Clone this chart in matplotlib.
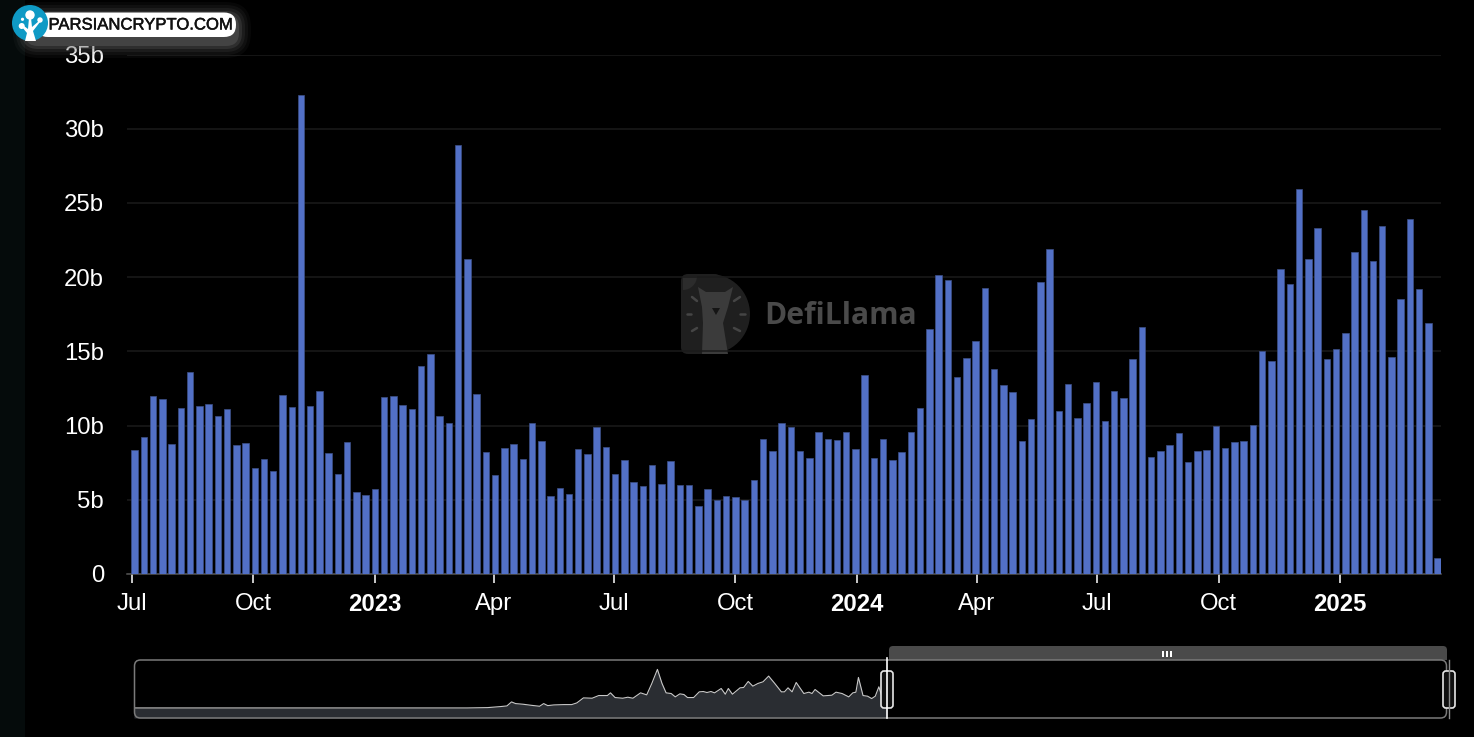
import numpy as np
import pandas as pd
import matplotlib
matplotlib.use('Agg')
import matplotlib.pyplot as plt
import matplotlib.dates as mdates
import matplotlib.patheffects as pe
from matplotlib.patches import Circle, FancyBboxPatch, Polygon, Rectangle, Wedge

plt.rcParams['font.family'] = ['Liberation Sans', 'DejaVu Sans']

# weekly volume in billions
volume = [8.36, 9.21, 12.02, 11.8, 8.76, 11.19, 13.6, 11.35, 11.48, 10.65, 11.12, 8.72,
          8.81, 7.15, 7.73, 6.92, 12.09, 11.26, 32.28, 11.35, 12.36, 8.16, 6.74, 8.9,
          5.53, 5.33, 5.73, 11.93, 12.0, 11.39, 11.12, 14.04, 14.83, 10.63, 10.18, 28.88,
          21.25, 12.13, 8.2, 6.67, 8.49, 8.76, 7.75, 10.18, 8.94, 5.24, 5.78, 5.39,
          8.45, 8.11, 9.93, 8.56, 6.74, 7.71, 6.22, 5.93, 7.37, 6.09, 7.6, 6.02,
          6.02, 4.61, 5.75, 4.99, 5.24, 5.17, 4.99, 6.34, 9.1, 8.31, 10.2, 9.93,
          8.27, 7.84, 9.57, 9.1, 9.03, 9.57, 8.4, 13.42, 7.82, 9.08, 7.71, 8.2,
          9.57, 11.19, 16.5, 20.15, 19.8, 13.26, 14.54, 15.73, 19.27, 13.78, 12.72, 12.29,
          8.94, 10.47, 19.66, 21.87, 10.99, 12.79, 10.54, 11.55, 12.94, 10.34, 12.34, 11.87,
          14.47, 16.67, 7.91, 8.27, 8.7, 9.53, 7.55, 8.29, 8.38, 9.98, 8.52, 8.92,
          8.97, 10.02, 15.03, 14.36, 20.58, 19.57, 25.95, 21.25, 23.3, 14.5, 15.18, 16.25,
          21.7, 24.5, 21.07, 23.45, 14.6, 18.55, 23.95, 19.2, 16.88, 1.06]
weeks = pd.date_range('2022-07-03', periods=len(volume), freq='7D')

tick_dates = ['2022-07-01', '2022-10-01', '2023-01-01', '2023-04-01', '2023-07-01', '2023-10-01',
              '2024-01-01', '2024-04-01', '2024-07-01', '2024-10-01', '2025-01-01']
tick_names = ['Jul', 'Oct', '2023', 'Apr', 'Jul', 'Oct', '2024', 'Apr', 'Jul', 'Oct', '2025']
y_ticks = [0, 5, 10, 15, 20, 25, 30, 35]
y_names = ['0', '5b', '10b', '15b', '20b', '25b', '30b', '35b']

# full history shown in the slider (position along slider, height)
overview_pos = [27, 680, 720, 745, 758, 767, 775, 790, 805, 822, 830, 838, 850, 870, 885, 895, 908,
                925, 938, 955, 961, 970, 985, 995, 1005, 1020, 1032, 1042, 1053, 1062, 1070, 1080,
                1088, 1097, 1105, 1112, 1124, 1135, 1143, 1150, 1158, 1165, 1178, 1186, 1192, 1200,
                1215, 1222, 1231, 1240, 1250, 1260, 1271, 1283, 1296, 1302, 1309, 1317, 1325, 1340,
                1350, 1356, 1362, 1378, 1395, 1403, 1415, 1428, 1436, 1442, 1447, 1456, 1465, 1473,
                1480, 1487, 1495, 1503]
overview_val = [30, 30, 31, 34, 36, 48, 43, 41, 38, 35, 43, 37, 39, 40, 40, 45, 60,
                59, 67, 67, 75, 61, 59, 62, 59, 75, 69, 103, 145, 103, 75, 73,
                63, 72, 70, 61, 61, 78, 79, 76, 79, 75, 88, 71, 88, 71,
                90, 91, 109, 95, 103, 108, 125, 103, 78, 78, 90, 78, 106, 73,
                77, 73, 85, 66, 68, 77, 73, 63, 75, 77, 121, 67, 65, 58,
                65, 93, 55, 53]

W, H = 1474, 737
fig = plt.figure(figsize=(W / 100, H / 100), dpi=100, facecolor='black')


def px_axes(left, top, right, bottom, **kw):
    return fig.add_axes([left / W, 1 - bottom / H, (right - left) / W, (bottom - top) / H], **kw)


# main chart
ax = px_axes(127, 54.5, 1441, 574, zorder=2)
ax.set_facecolor('none')
px_per_day = 1208 / 915
start = mdates.date2num(pd.Timestamp('2022-07-01'))
ax.set_xlim(start - 5 / px_per_day, start + (1441 - 132) / px_per_day)
ax.set_ylim(0, 35)
ax.bar(weeks, volume, width=4.9, color='#5270c6', edgecolor='#3d4f86', linewidth=0.5, zorder=3)

ax.grid(axis='y', color='#1b1b1b', linewidth=1.1, zorder=0)
ax.set_axisbelow(True)
for s in ['top', 'right', 'left']:
    ax.spines[s].set_visible(False)
ax.spines['bottom'].set_color('#555555')
ax.spines['bottom'].set_linewidth(1.1)

ax.set_xticks(mdates.date2num(pd.to_datetime(tick_dates)))
ax.set_xticklabels(tick_names)
ax.set_yticks(y_ticks)
ax.set_yticklabels(y_names)
ax.tick_params(axis='x', colors='white', length=6.5, width=1.1, pad=7.2, labelsize=17.2)
ax.tick_params(axis='y', colors='white', length=0, pad=16.5, labelsize=17.2)
for lab in ax.get_xticklabels():
    if lab.get_text().startswith('20'):
        lab.set_fontweight('bold')
for lab in ax.get_yticklabels():
    lab.set_va('center_baseline')

# slider mini chart
ov = px_axes(134, 660, 887, 718, zorder=1)
ov.set_facecolor('none')
ov.set_xlim(27, 1503)
ov.set_ylim(0, 173)
ov.fill_between(overview_pos, overview_val, 0, color='#2a2d32', linewidth=0)
ov.plot(overview_pos, overview_val, color='#c8c8c8', linewidth=0.8)
ov.axis('off')

# everything else sits on a pixel overlay
bg = px_axes(0, 0, W, H, zorder=0)
bg.set_xlim(0, W)
bg.set_ylim(H, 0)
bg.axis('off')
bg.add_patch(Rectangle((0, 0), 25, H, color='#050b0b', lw=0))

# watermark
bg.add_patch(Wedge((710, 314), 40, -90, 90, facecolor='#1f1f1f', edgecolor='none'))
bg.add_patch(FancyBboxPatch((681, 274), 40, 80, boxstyle='round,pad=0,rounding_size=7', facecolor='#1f1f1f',
                            edgecolor='none'))
bg.add_patch(Wedge((683, 276), 14, 0, 90, facecolor='#2c2c2c', edgecolor='none'))
bg.add_patch(Polygon([(698, 287), (706, 292), (725, 292), (733, 287), (728, 307), (723, 323), (728, 354), (702, 354),
                      (703, 323), (702, 307)], facecolor='#3b3b3b', edgecolor='none'))
bg.add_patch(Polygon([(712, 308), (720, 308), (716, 315)], facecolor='#151515', edgecolor='none'))
for x0, y0, x1, y1 in [(692, 297, 697, 301), (687, 314, 691, 314), (692, 331, 697, 328),
                       (734, 301, 740, 297), (740, 314, 745, 314), (734, 328, 740, 331)]:
    bg.plot([x0, x1], [y0, y1], color='#454545', lw=1.8, solid_capstyle='round')
bg.text(764, 316, 'DefiLlama', family='Open Sans', fontweight='bold', fontsize=21.6, color='#4a4a4a',
        ha='left', va='center')

# slider frame
bg.add_patch(FancyBboxPatch((889, 646), 558, 20, boxstyle='round,pad=0,rounding_size=4', facecolor='#4a4a4a',
                            edgecolor='none'))
bg.add_patch(Rectangle((889, 660), 558, 8, color='black', lw=0))
for x0 in [1163, 1167, 1171]:
    bg.add_patch(Rectangle((x0 - 1, 650.5), 2, 6, color='white', lw=0))

top = px_axes(0, 0, W, H, zorder=3)
top.set_xlim(0, W)
top.set_ylim(H, 0)
top.axis('off')
top.patch.set_visible(False)
top.add_patch(FancyBboxPatch((134.5, 660), 1312, 58, boxstyle='round,pad=0,rounding_size=6', facecolor='none',
                             edgecolor='#7a7a7a', lw=1.1))
top.plot([887, 887], [658, 718], color='white', lw=1.2)
top.plot([1449, 1449], [660, 718], color='#8a8a8a', lw=1.0)
for x0 in [881, 1443]:
    top.add_patch(FancyBboxPatch((x0, 671), 12, 37, boxstyle='round,pad=0,rounding_size=3', facecolor='#101010',
                                 edgecolor='#e6e6e6', lw=1.2))

# site badge, soft shadow first
for pad, alpha in [(15, 0.07), (12, 0.1), (9, 0.15), (6, 0.25), (3, 0.38)]:
    top.add_patch(FancyBboxPatch((28 - pad, 17 - pad), 208 + 2 * pad, 26 + 2 * pad,
                                 boxstyle='round,pad=0,rounding_size=%d' % (10 + pad), facecolor='#666666',
                                 edgecolor='none', alpha=alpha))
top.add_patch(FancyBboxPatch((36, 12.5), 200, 24.5, boxstyle='round,pad=0,rounding_size=12', facecolor='white',
                             edgecolor='none'))
top.text(48.5, 25, 'PARSIANCRYPTO.COM', color='#111111', fontsize=12, ha='left', va='center',
         path_effects=[pe.withStroke(linewidth=0.35, foreground='#111111')])
top.add_patch(Circle((30, 23), 18, facecolor='#0f9ac5', edgecolor='none'))
top.add_patch(Polygon([(25, 41), (27, 33), (22, 27), (24, 26), (28, 29), (29, 18), (31, 18), (32, 27), (39, 21),
                       (40, 22), (33, 31), (36, 41)], facecolor='white', edgecolor='none'))
for cx, cy, r in [(30, 15, 4.7), (40, 20, 2.7), (22.5, 19.3, 1.6), (21.7, 26, 3)]:
    top.add_patch(Circle((cx, cy), r, facecolor='white', edgecolor='none'))

fig.savefig('out.png', dpi=100, facecolor='black')
